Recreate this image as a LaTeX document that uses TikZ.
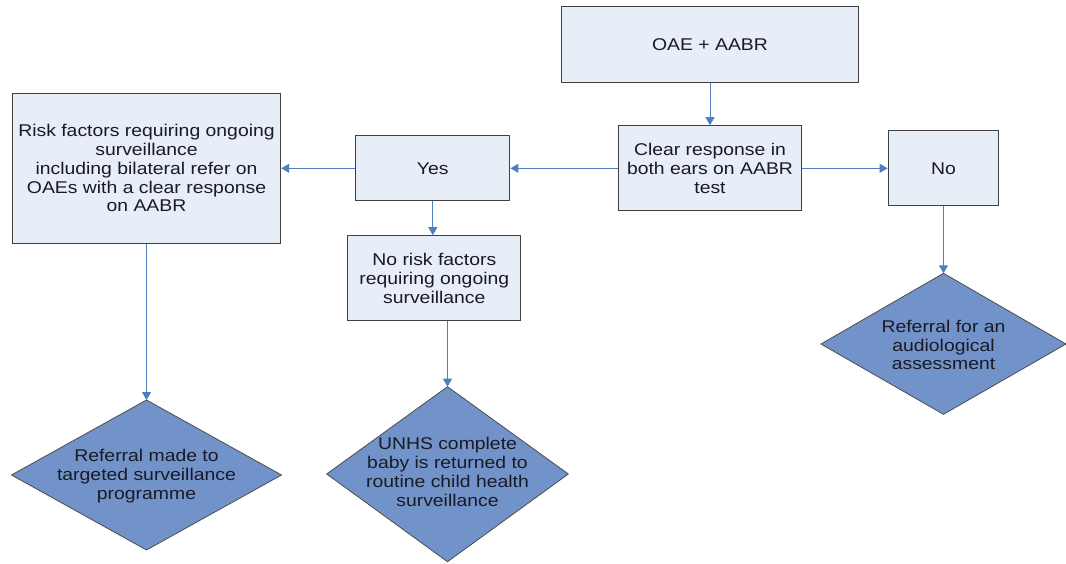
\documentclass[tikz,border=0pt]{standalone}
\usepackage{fontspec}
\setmainfont{Liberation Sans}[FakeStretch=1.14]
\usetikzlibrary{arrows.meta,shapes.geometric}
\definecolor{boxfill}{HTML}{E8EEF8}
\definecolor{diafill}{HTML}{7293C9}
\definecolor{linec}{HTML}{4F7FC0}
\definecolor{txt}{HTML}{1A1A24}
\tikzset{
  box/.style={draw=black!75, line width=1pt, fill=boxfill, align=center, text=txt,
    font=\fontsize{17}{18.8}\selectfont, inner sep=0pt},
  dia/.style={draw=black!70, line width=0.8pt, fill=diafill},
  diatext/.style={text=txt, align=center, font=\fontsize{17}{18.8}\selectfont},
  conn/.style={draw=linec, line width=1pt, -{Triangle[length=8pt,width=9pt]}}
}
\begin{document}
\begin{tikzpicture}[x=1pt,y=-1pt]
\useasboundingbox (0,0) rectangle (1066,563);
% boxes
\node[box, minimum width=296.6pt, minimum height=75.6pt] (oae) at (710,44.5) {OAE + AABR};
\node[box, minimum width=182.4pt, minimum height=85.3pt] (clear) at (710,168.3) {Clear response in\\both ears on AABR\\test};
\node[box, minimum width=110.7pt, minimum height=75pt] (no) at (943.5,168.3) {No};
\node[box, minimum width=154.3pt, minimum height=65pt] (yes) at (432.8,168.3) {Yes};
\node[box, minimum width=173.3pt, minimum height=85pt] (norisk) at (434.3,278.2) {No risk factors\\requiring ongoing\\surveillance};
\node[box, minimum width=268.4pt, minimum height=150pt] (risk) at (146.5,168.3) {Risk factors requiring ongoing\\surveillance\\including bilateral refer on\\OAEs with a clear response\\on AABR};
% diamonds
\path[dia] (146.5,400) coordinate (ref1t) -- (281.5,475) -- (146.5,550) -- (11.5,475) -- cycle;
\node[diatext] (ref1) at (146.5,476) {Referral made to\\targeted surveillance\\programme};
\path[dia] (447.5,386.7) coordinate (ref2t) -- (568.3,474) -- (447.5,561.7) -- (326.7,474) -- cycle;
\node[diatext] (ref2) at (447.5,472) {UNHS complete\\baby is returned to\\routine child health\\surveillance};
\path[dia] (943.5,273.3) coordinate (ref3t) -- (1066,344) -- (943.5,414.3) -- (821,344) -- cycle;
\node[diatext] (ref3) at (943.5,345) {Referral for an\\audiological\\assessment};
% connectors
\draw[conn] (oae.south) -- (clear.north);
\draw[conn] (clear.west) -- (yes.east);
\draw[conn] (yes.west) -- (risk.east);
\draw[conn] (clear.east) -- (no.west);
\draw[conn] (yes.south) -- (yes.south |- norisk.north);
\draw[conn] (risk.south) -- (ref1t);
\draw[conn] (norisk.south -| ref2t) -- (ref2t);
\draw[conn] (no.south) -- (ref3t);
\end{tikzpicture}
\end{document}
